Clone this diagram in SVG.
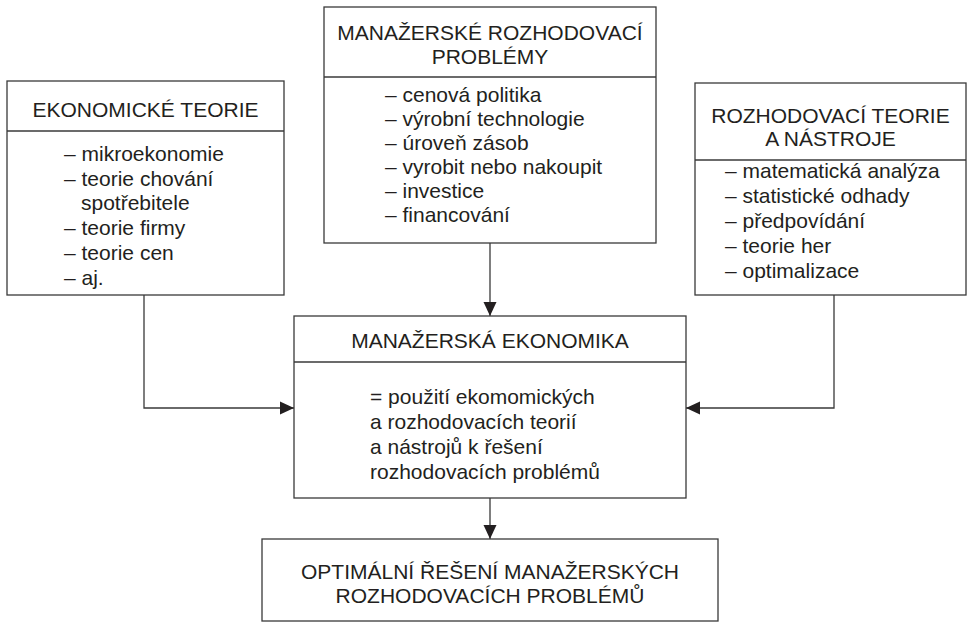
<svg xmlns="http://www.w3.org/2000/svg" width="967" height="622" viewBox="0 0 967 622">
<style>
  .box { fill: #ffffff; stroke: #3a3a3a; stroke-width: 1.3; }
  .div { stroke: #3a3a3a; stroke-width: 1.3; fill: none; }
  .t { font-family: "Liberation Sans", Arial, sans-serif; font-size: 21px; fill: #231f20; }
  .c { text-anchor: middle; }
  .conn { stroke: #3a3a3a; stroke-width: 1.3; fill: none; }
</style>
<defs>
  <marker id="arr" markerWidth="14" markerHeight="14" refX="14" refY="7" orient="auto" markerUnits="userSpaceOnUse">
    <path d="M0,0.5 L14,7 L0,13.5 Z" fill="#231f20"/>
  </marker>
</defs>
<rect width="967" height="622" fill="#ffffff"/>

<g id="connectors">
  <path class="conn" d="M144,295 V408 H294" marker-end="url(#arr)"/>
  <path class="conn" d="M834,295 V408 H686" marker-end="url(#arr)"/>
  <path class="conn" d="M490,243 V316" marker-end="url(#arr)"/>
  <path class="conn" d="M490,498 V539" marker-end="url(#arr)"/>
</g>

<g id="ekonomicke-teorie">
  <rect class="box" x="7" y="81" width="277" height="214"/>
  <line class="div" x1="7" y1="131" x2="284" y2="131"/>
  <text class="t c" x="145.5" y="117">EKONOMICKÉ TEORIE</text>
  <text class="t" x="64" y="161">– mikroekonomie</text>
  <text class="t" x="64" y="186">– teorie chování</text>
  <text class="t" x="81" y="210">spotřebitele</text>
  <text class="t" x="64" y="235">– teorie firmy</text>
  <text class="t" x="64" y="260">– teorie cen</text>
  <text class="t" x="64" y="285">– aj.</text>
</g>

<g id="manazerske-problemy">
  <rect class="box" x="324" y="7" width="332" height="236"/>
  <line class="div" x1="324" y1="77" x2="656" y2="77"/>
  <text class="t c" x="490" y="40">MANAŽERSKÉ ROZHODOVACÍ</text>
  <text class="t c" x="490" y="64">PROBLÉMY</text>
  <text class="t" x="385" y="102">– cenová politika</text>
  <text class="t" x="385" y="126">– výrobní technologie</text>
  <text class="t" x="385" y="150">– úroveň zásob</text>
  <text class="t" x="385" y="174">– vyrobit nebo nakoupit</text>
  <text class="t" x="385" y="198">– investice</text>
  <text class="t" x="385" y="222">– financování</text>
</g>

<g id="rozhodovaci-teorie">
  <rect class="box" x="695" y="83" width="271" height="212"/>
  <line class="div" x1="695" y1="160" x2="966" y2="160"/>
  <text class="t c" x="830.5" y="123">ROZHODOVACÍ TEORIE</text>
  <text class="t c" x="830.5" y="146">A NÁSTROJE</text>
  <text class="t" x="725" y="178">– matematická analýza</text>
  <text class="t" x="725" y="203">– statistické odhady</text>
  <text class="t" x="725" y="228">– předpovídání</text>
  <text class="t" x="725" y="253">– teorie her</text>
  <text class="t" x="725" y="278">– optimalizace</text>
</g>

<g id="manazerska-ekonomika">
  <rect class="box" x="294" y="316" width="392" height="182"/>
  <line class="div" x1="294" y1="362" x2="686" y2="362"/>
  <text class="t c" x="490" y="348">MANAŽERSKÁ EKONOMIKA</text>
  <text class="t" x="370" y="404">= použití ekomomických</text>
  <text class="t" x="370" y="429">a rozhodovacích teorií</text>
  <text class="t" x="370" y="454">a nástrojů k řešení</text>
  <text class="t" x="370" y="479">rozhodovacích problémů</text>
</g>

<g id="optimalni-reseni">
  <rect class="box" x="262" y="539" width="456" height="82"/>
  <text class="t c" x="490" y="579">OPTIMÁLNÍ ŘEŠENÍ MANAŽERSKÝCH</text>
  <text class="t c" x="490" y="603">ROZHODOVACÍCH PROBLÉMŮ</text>
</g>
</svg>
